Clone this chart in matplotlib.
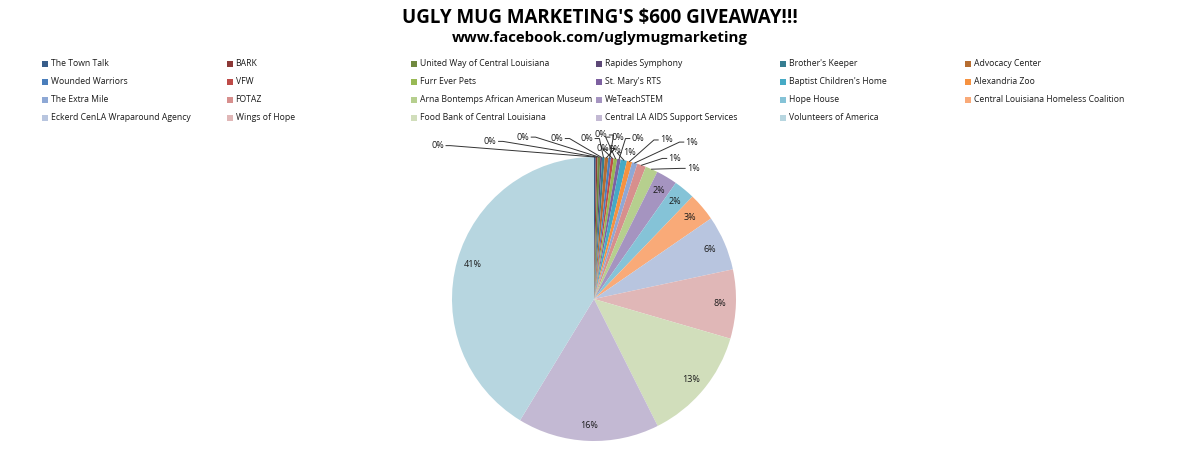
import numpy as np
import matplotlib
matplotlib.use('Agg')
import matplotlib.pyplot as plt
from matplotlib.patches import Rectangle

plt.rcParams['font.family'] = ['Open Sans', 'DejaVu Sans']

# series order = legend order = clockwise order of the slices from 12 o'clock
names = ["The Town Talk", "BARK", "United Way of Central Louisiana", "Rapides Symphony",
         "Brother's Keeper", "Advocacy Center", "Wounded Warriors", "VFW", "Furr Ever Pets",
         "St. Mary's RTS", "Baptist Children's Home", "Alexandria Zoo", "The Extra Mile",
         "FOTAZ", "Arna Bontemps African American Museum", "WeTeachSTEM", "Hope House",
         "Central Louisiana Homeless Coalition", "Eckerd CenLA Wraparound Agency",
         "Wings of Hope", "Food Bank of Central Louisiana", "Central LA AIDS Support Services",
         "Volunteers of America"]
shares = [0.2, 0.2, 0.3, 0.2, 0.3, 0.4, 0.3, 0.3, 0.4, 0.4, 0.7, 0.6, 0.6,
          1.0, 1.4, 2.4, 2.4, 3.2, 6.2, 7.8, 13.0, 16.0, 41.0]

# excel 2007 style palette: darker, base, lighter, lightest
colors = ["#385D8A", "#8C3836", "#71893F", "#5C4776", "#357D91", "#B66D31",
          "#4A7EBB", "#BE4B48", "#98B954", "#7D60A0", "#46AAC5", "#F69240",
          "#8EA8D5", "#D78F8D", "#B6CF8E", "#A594C0", "#85C3D7", "#F9AA78",
          "#B8C5DF", "#E0B7B7", "#D1DEBB", "#C3B9D3", "#B7D6E0"]

# outside label spots for the thin slices (pie radius units)
outside_pos = [(-1.10, 1.08), (-0.73, 1.11), (-0.50, 1.14), (-0.26, 1.13), (-0.05, 1.13),
               (0.06, 1.06), (0.05, 1.155), (0.15, 1.055), (0.17, 1.14), (0.31, 1.13),
               (0.25, 1.03), (0.51, 1.12), (0.69, 1.105), (0.57, 0.99), (0.70, 0.92)]

W, H = 1200, 463
cx, cy, R = 594, 299, 142

fig = plt.figure(figsize=(12, 4.63), dpi=100)
ax = fig.add_axes([0, 0, 1, 1])

wedges, _ = ax.pie(shares, colors=colors, startangle=90, counterclock=False,
                   wedgeprops=dict(linewidth=0))
ax.set_xlim(-cx / R, (W - cx) / R)
ax.set_ylim(-(H - cy) / R, cy / R)
ax.set_aspect('auto')
ax.axis('off')

total = sum(shares)
lab_fs = 6.5
for i, w in enumerate(wedges):
    pct = shares[i] / total * 100
    txt = "%d%%" % round(pct)
    mid = np.deg2rad((w.theta1 + w.theta2) / 2)
    ex, ey = np.cos(mid), np.sin(mid)
    if i < len(outside_pos):
        lx, ly = outside_pos[i]
        ax.text(lx, ly, txt, fontsize=lab_fs, ha='center', va='center', color='#1a1a1a')
        half = 0.058
        if lx < ex:
            sx = lx + half
            pts_x = [sx, sx + 0.03, ex]
        else:
            sx = lx - half
            pts_x = [sx, sx - 0.03, ex]
        ax.plot(pts_x, [ly, ly, ey], color='#333333', lw=0.7)
    else:
        ax.text(0.89 * ex, 0.89 * ey, txt, fontsize=lab_fs, ha='center', va='center',
                color='#1a1a1a')

# title
fig.text(0.5, 1 - 18 / H, "UGLY MUG MARKETING'S $600 GIVEAWAY!!!", ha='center', va='center',
         fontsize=13.5, fontweight='bold')
fig.text(0.5, 1 - 38 / H, "www.facebook.com/uglymugmarketing", ha='center', va='center',
         fontsize=10.8, fontweight='bold')

# legend, 6 columns, row-major like excel
col_w = 184.6
for i, name in enumerate(names):
    r, c = divmod(i, 6)
    x = 42 + c * col_w
    y = 64 + r * 18
    fig.patches.append(Rectangle((x / W, 1 - (y + 3) / H), 6 / W, 6 / H,
                                 transform=fig.transFigure, facecolor=colors[i],
                                 edgecolor='none'))
    fig.text((x + 9) / W, 1 - y / H, name, ha='left', va='center', fontsize=6.2,
             color='#1a1a1a')

fig.savefig('out.png', dpi=100, facecolor='white')
